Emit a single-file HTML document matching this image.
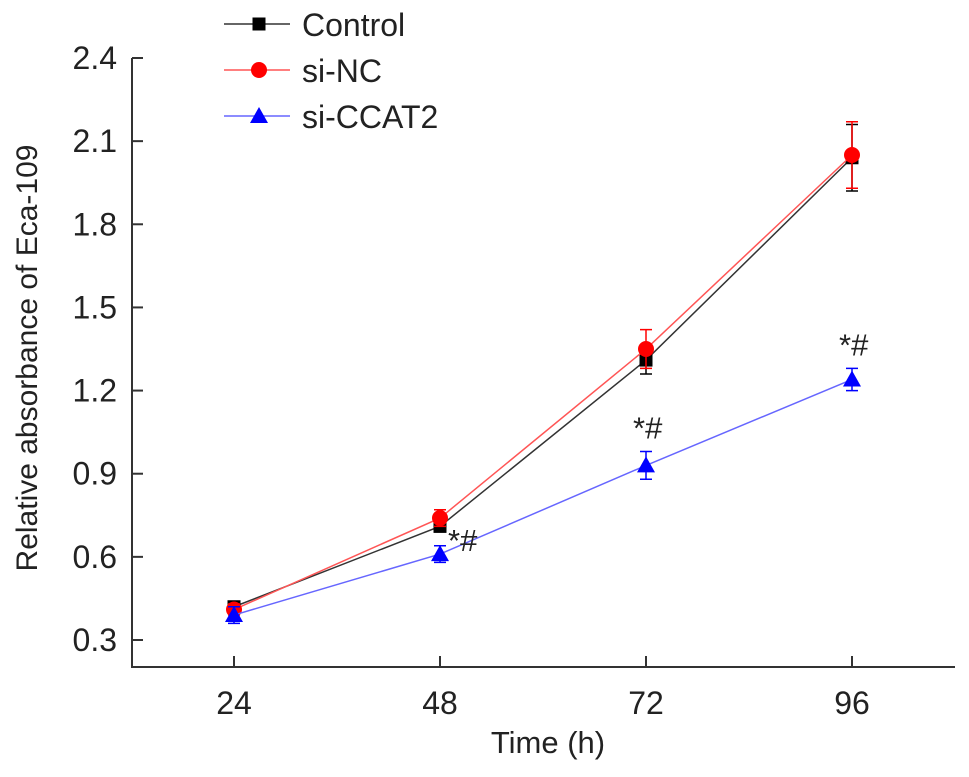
<!DOCTYPE html>
<html><head><meta charset="utf-8"><style>
body{margin:0;background:#fff;}
svg text{font-family:"Liberation Sans",Arial,sans-serif;}
</style></head><body>
<svg id="chart" width="969" height="772" viewBox="0 0 969 772" xmlns="http://www.w3.org/2000/svg"></svg>
<script>
const categories=[24,48,72,96];
const yTicks=[0.3,0.6,0.9,1.2,1.5,1.8,2.1,2.4];
const yTickLabels=["0.3","0.6","0.9","1.2","1.5","1.8","2.1","2.4"];
const controlValues=[0.42,0.71,1.31,2.04];
const controlErr=[0.02,0.02,0.05,0.12];
const siNCValues=[0.41,0.74,1.35,2.05];
const siNCErr=[0.02,0.03,0.07,0.12];
const siCCAT2Values=[0.39,0.61,0.93,1.24];
const siCCAT2Err=[0.03,0.03,0.05,0.04];
const sigLabels=["","*#","*#","*#"];

const NS="http://www.w3.org/2000/svg";
const svg=document.getElementById('chart');
function X(v){return 234+(v-24)*(206/24);}
function Y(v){return 640-(v-0.3)*(582/2.1);}
function mk(tag,attrs,parent){const e=document.createElementNS(NS,tag);for(const k in attrs)e.setAttribute(k,attrs[k]);(parent||svg).appendChild(e);return e;}

const ax=mk('path',{d:'M132,58 V667 H955',fill:'none',stroke:'#333','stroke-width':2});


yTicks.forEach((t,i)=>{
  const y=Y(t);
  const l=mk('line',{x1:132,x2:143,y1:y,y2:y,stroke:'#333','stroke-width':2});
  
  
  const tx=mk('text',{x:117,y:y+11,'text-anchor':'end','font-size':32,fill:'#222'});
  tx.textContent=yTickLabels[i];
  
  
});
categories.forEach(c=>{
  const x=X(c);
  const l=mk('line',{x1:x,x2:x,y1:656,y2:667,stroke:'#333','stroke-width':2});
  
  
  const tx=mk('text',{x:x,y:714,'text-anchor':'middle','font-size':32,fill:'#222'});
  tx.textContent=String(c);
  
  
});
const xt=mk('text',{x:548,y:753,'text-anchor':'middle','font-size':31,fill:'#222'});
xt.textContent='Time (h)';


const yt=mk('text',{x:0,y:0,'text-anchor':'middle','font-size':30,fill:'#222',transform:'translate(37,358) rotate(-90)'});
yt.textContent='Relative absorbance of Eca-109';



function marker(type,x,y,color,parent){
  if(type==='square')return mk('rect',{x:x-6.5,y:y-6.5,width:13,height:13,fill:color},parent);
  if(type==='circle')return mk('circle',{cx:x,cy:y,r:8,fill:color},parent);
  return mk('polygon',{points:`${x},${y-9} ${x-9},${y+7} ${x+9},${y+7}`,fill:color},parent);
}
function series(name,vals,errs,color,line,type){
  const g=mk('g',{});
  
  
  vals.forEach((v,i)=>{
    const x=X(categories[i]);
    const e=mk('path',{d:`M${x},${Y(v-errs[i])}V${Y(v+errs[i])}M${x-6},${Y(v-errs[i])}H${x+6}M${x-6},${Y(v+errs[i])}H${x+6}`,stroke:color,'stroke-width':1.5,fill:'none'},g);
    
    
  });
  const p=mk('polyline',{points:vals.map((v,i)=>X(categories[i])+','+Y(v)).join(' '),fill:'none',stroke:line,'stroke-width':1.5},g);
  
  
  vals.forEach((v,i)=>{
    const m=marker(type,X(categories[i]),Y(v),color,g);
    
    
  });
}
series('control',controlValues,controlErr,'#000','#333','square');
series('si-nc',siNCValues,siNCErr,'#f00','#f55','circle');
series('si-ccat2',siCCAT2Values,siCCAT2Err,'#00f','#66f','triangle');

sigLabels.forEach((s,i)=>{
  if(!s)return;
  const x=X(categories[i]);
  const t=mk('text',{x:i===1?x+8:x-13,y:i===1?Y(siCCAT2Values[i])-3:Y(siCCAT2Values[i]+siCCAT2Err[i])-13,'font-size':31,fill:'#222'});
  t.textContent=s;
  
  
});

const leg=[['Control','#000','#333','square'],['si-NC','#f00','#f55','circle'],['si-CCAT2','#00f','#66f','triangle']];
leg.forEach((l,i)=>{
  const y=24+i*46;
  const g=mk('g',{});
  
  
  mk('line',{x1:224,x2:290,y1:y,y2:y,stroke:l[2],'stroke-width':1.5},g);
  marker(l[3],259,y,l[1],g);
  const t=mk('text',{x:302,y:y+12,'font-size':32,fill:'#222'},g);
  t.textContent=l[0];
});
</script>
</body></html>
